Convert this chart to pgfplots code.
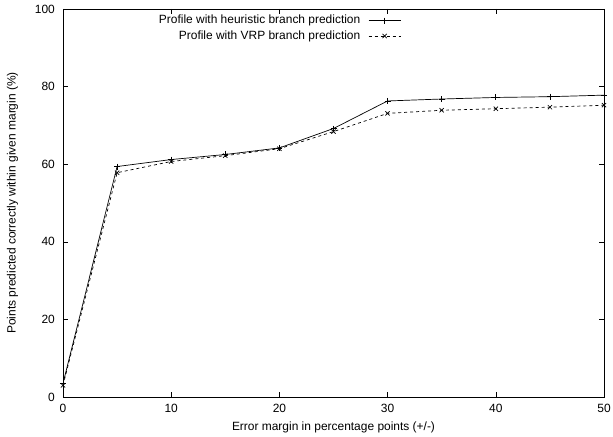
\documentclass[border=0pt]{standalone}
\usepackage{fontspec}
\setmainfont{Liberation Sans}
\usepackage{pgfplots}
\pgfplotsset{compat=1.18}
\begin{document}
\fontsize{12}{14}\selectfont
\begin{tikzpicture}[x=1bp,y=1bp]
\begin{axis}[
  scale only axis,
  width=541bp, height=388bp,
  xmin=0, xmax=50, ymin=0, ymax=100,
  xtick={0,10,...,50}, ytick={0,20,...,100},
  tick align=inside,
  major tick length=5bp,
  tick style={black, line width=0.6pt},
  axis line style={line width=0.8pt},
  /pgf/number format/assume math mode=true,
  tick label style={font=\fontsize{12}{14}\selectfont},
  yticklabel style={xshift=-4bp},
  xticklabel style={yshift=-3bp},
  xlabel={Error margin in percentage points (+/-)},
  ylabel={Points predicted correctly within given margin (\%)},
  xlabel style={at={(axis description cs:0.5,-0.0773)}, anchor=center},
  ylabel style={at={(axis description cs:-0.0933,0.5)}, anchor=center},
  legend style={draw=none, fill=none, at={(axis description cs:0.627,0.992)}, anchor=north east, font=\fontsize{12}{14}\selectfont, row sep=1bp, inner sep=1bp},
  legend cell align=right,
  legend plot pos=right,
  legend image code/.code={\path (0bp,0bp); \draw[mark repeat=2,mark phase=2,#1] plot coordinates {(6bp,0bp) (22bp,0bp) (38bp,0bp)};},
]
\addplot[black, line width=0.7pt, mark=+, mark size=3bp, mark options={solid}] coordinates {
(0,3.5) (5,59.4) (10,61.2) (15,62.5) (20,64.2) (25,69.2) (30,76.3) (35,76.8) (40,77.2) (45,77.4) (50,77.8)
};
\addlegendentry{Profile with heuristic branch prediction}
\addplot[black, line width=0.7pt, dashed, mark=x, mark size=3bp, mark options={solid}] coordinates {
(0,3) (5,57.8) (10,60.7) (15,62.2) (20,64) (25,68.4) (30,73.1) (35,73.9) (40,74.3) (45,74.7) (50,75.2)
};
\addlegendentry{Profile with VRP branch prediction}
\end{axis}
\pgfresetboundingbox
\path ([shift={(-63bp,-39bp)}]current axis.south west) rectangle ([shift={(9bp,9bp)}]current axis.north east);
\end{tikzpicture}
\end{document}
